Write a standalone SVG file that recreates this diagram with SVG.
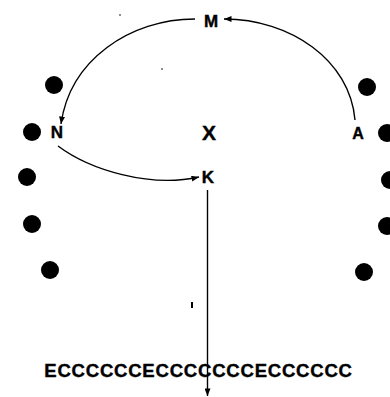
<svg xmlns="http://www.w3.org/2000/svg" width="390" height="397" viewBox="0 0 390 397">
<style>
.lbl{font-family:"Liberation Sans",Arial,sans-serif;font-weight:bold;fill:#000;text-anchor:middle;stroke:#000;stroke-width:0.4}
.dot{fill:#000}
.con{fill:none;stroke:#000;stroke-width:1.4}
</style>
<defs>
<marker id="ah" viewBox="0 0 10 8" refX="10" refY="4" markerWidth="8" markerHeight="6" markerUnits="userSpaceOnUse" orient="auto">
<path d="M0,0 L10,4 L0,8 Z" fill="#000"/>
</marker>
</defs>
<rect width="390" height="397" fill="#fff"/>
<g id="dots">
<circle class="dot" cx="54" cy="85" r="9"/>
<circle class="dot" cx="32" cy="132" r="9"/>
<circle class="dot" cx="27" cy="177" r="9"/>
<circle class="dot" cx="32" cy="224" r="9"/>
<circle class="dot" cx="50" cy="270" r="9"/>
<circle class="dot" cx="367" cy="87" r="9"/>
<circle class="dot" cx="387" cy="133" r="9"/>
<circle class="dot" cx="390" cy="180" r="9"/>
<circle class="dot" cx="387" cy="226" r="9"/>
<circle class="dot" cx="364" cy="272" r="9"/>
</g>
<g id="connectors">
<path class="con" d="M355,120 C350,60 290,19 224,19" marker-end="url(#ah)"/>
<path class="con" d="M195,19 C130,19 70,60 61,124" marker-end="url(#ah)"/>
<path class="con" d="M58,146 C90,170 150,188 199,177" marker-end="url(#ah)"/>
<path class="con" d="M207.5,190 L207.5,396" marker-end="url(#ah)"/>
</g>
<g id="node-M"><text class="lbl" x="211" y="26.5" font-size="17">M</text></g>
<g id="node-N"><text class="lbl" x="57" y="137.5" font-size="17">N</text></g>
<g id="node-X"><text class="lbl" x="209" y="139.5" font-size="21">X</text></g>
<g id="node-A"><text class="lbl" x="358" y="139" font-size="16">A</text></g>
<g id="node-K"><text class="lbl" x="208" y="183" font-size="17">K</text></g>
<g id="sequence"><text class="lbl" x="198.5" y="377" font-size="18.5" letter-spacing="0.8">ECCCCCCECCCCCCCECCCCCC</text></g>
<g id="specks">
<rect x="191" y="302" width="2" height="6" fill="#000"/>
<circle cx="120" cy="15" r="0.8" fill="#000"/>
<circle cx="162" cy="69" r="0.8" fill="#000"/>
</g>
</svg>
